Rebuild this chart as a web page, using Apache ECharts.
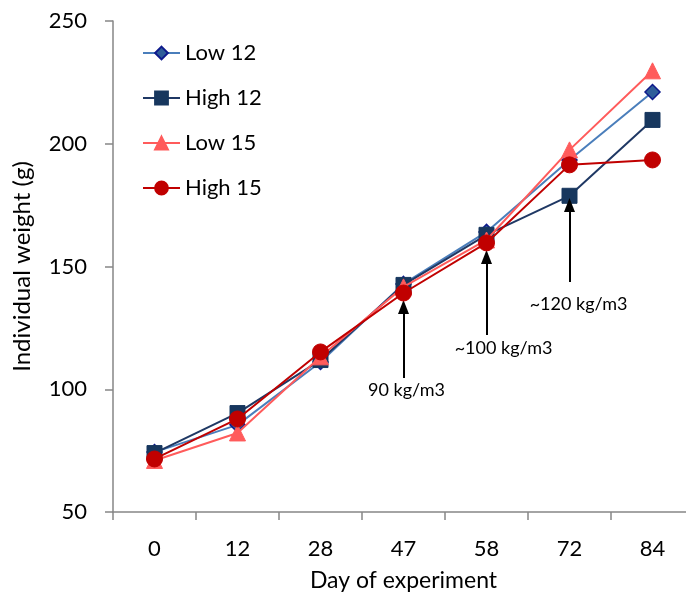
<!DOCTYPE html>
<html>
<head>
<meta charset="utf-8">
<script src="https://cdn.jsdelivr.net/npm/echarts@6/dist/echarts.min.js"></script>
<style>
html,body{margin:0;padding:0;background:#fff;}
#chart{width:686px;height:595px;}
</style>
</head>
<body>
<div id="chart"></div>
<script>
const days = ['0', '12', '28', '47', '58', '72', '84'];
const low12 = [74.4, 85.5, 111.1, 142.9, 164.1, 193.4, 221.1];
const high12 = [74.0, 90.3, 111.9, 142.5, 162.9, 178.8, 209.7];
const low15 = [71.0, 82.2, 113.2, 141.7, 160.8, 197.5, 229.7];
const high15 = [71.6, 87.9, 115.2, 139.2, 159.6, 191.4, 193.4];
const yTicks = [50, 100, 150, 200, 250];

const arrowDays = ['47', '58', '72'];
const arrowFrom = [104.6, 122.1, 143.7];
const arrowTo = [133.5, 153.9, 175.1];
const arrowLabels = ['90 kg/m3', '~100 kg/m3', '~120 kg/m3'];
const arrowLabelValues = [99.7, 116.8, 134.8];
const arrowLabelShift = [3, 17, 9];

const FONT = 'Lato';
const chart = echarts.init(document.getElementById('chart'), null, {renderer: 'canvas'});

const option = {
  animation: false,
  backgroundColor: '#ffffff',
  textStyle: {fontFamily: FONT},
  grid: {left: 113, width: 581, top: 21, bottom: 83, containLabel: false, outerBoundsMode: 'none'},
  legend: {
    orient: 'vertical',
    left: 137,
    top: 37,
    itemWidth: 37,
    itemHeight: 16,
    itemGap: 23,
    textStyle: {fontFamily: FONT, fontSize: 22, color: '#000'},
    data: ['Low 12', 'High 12', 'Low 15', 'High 15']
  },
  xAxis: {
    type: 'category',
    data: days,
    boundaryGap: true,
    name: 'Day of experiment',
    nameLocation: 'middle',
    nameGap: 57,
    nameTextStyle: {fontFamily: FONT, fontSize: 23, color: '#000'},
    axisLine: {lineStyle: {color: '#868686', width: 1.5}},
    axisTick: {show: true, length: 8, lineStyle: {color: '#868686', width: 1.5}},
    axisLabel: {fontFamily: FONT, fontSize: 22, color: '#000', margin: 26},
    splitLine: {show: false}
  },
  yAxis: {
    type: 'value',
    min: yTicks[0],
    max: yTicks[yTicks.length - 1],
    interval: 50,
    name: 'Individual weight (g)',
    nameLocation: 'middle',
    nameGap: 79,
    nameTextStyle: {fontFamily: FONT, fontSize: 24, color: '#000'},
    axisLine: {show: true, lineStyle: {color: '#868686', width: 1.5}},
    axisTick: {show: true, length: 8, lineStyle: {color: '#868686', width: 1.5}},
    axisLabel: {fontFamily: FONT, fontSize: 22, color: '#000', margin: 26},
    splitLine: {show: false}
  },
  series: [
    {
      name: 'Low 12', type: 'line', data: low12,
      symbol: 'diamond', symbolSize: 15,
      lineStyle: {color: '#4A7EBB', width: 2},
      itemStyle: {color: '#2F5E9A', borderColor: '#0E1A8C', borderWidth: 1.5},
      z: 2
    },
    {
      name: 'High 12', type: 'line', data: high12,
      symbol: 'rect', symbolSize: 15,
      lineStyle: {color: '#1F3864', width: 2},
      itemStyle: {color: '#17375E', borderColor: '#17375E', borderWidth: 1},
      z: 3
    },
    {
      name: 'Low 15', type: 'line', data: low15,
      symbol: 'triangle', symbolSize: 16,
      lineStyle: {color: '#FF5B5B', width: 2},
      itemStyle: {color: '#FF5B5B', borderColor: '#FF5B5B', borderWidth: 1},
      z: 4
    },
    {
      name: 'High 15', type: 'line', data: high15,
      symbol: 'circle', symbolSize: 16,
      lineStyle: {color: '#C00000', width: 2},
      itemStyle: {color: '#C00000', borderColor: '#C00000', borderWidth: 1},
      z: 5,
      markLine: {
        silent: true,
        symbol: ['none', 'triangle'],
        symbolSize: [11, 14],
        label: {show: false},
        lineStyle: {color: '#000', width: 2, type: 'solid'},
        data: arrowDays.map((d, i) => [
          {coord: [d, arrowFrom[i]]},
          {coord: [d, arrowTo[i]]}
        ])
      }
    },
    {
      name: 'annotations', type: 'scatter',
      symbolSize: 1, silent: true,
      itemStyle: {opacity: 0},
      data: arrowDays.map((d, i) => ({
        value: [d, arrowLabelValues[i]],
        label: {
          show: true, position: 'top', distance: 0, offset: [arrowLabelShift[i], 10],
          formatter: arrowLabels[i],
          fontFamily: FONT, fontSize: 18, color: '#000', opacity: 1
        }
      })),
      z: 6
    }
  ]
};
chart.setOption(option);
</script>
</body>
</html>
